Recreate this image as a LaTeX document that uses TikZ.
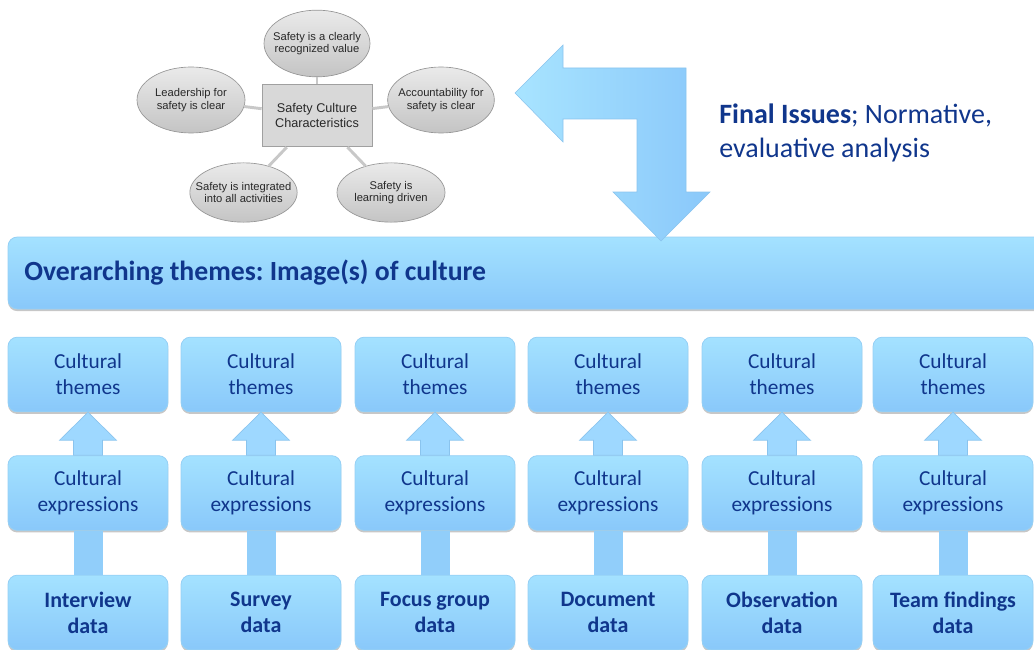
\documentclass[tikz,border=0pt]{standalone}
\usepackage{fontspec}
\setmainfont{Carlito}
\newfontfamily\mapfont{Liberation Sans}
\usetikzlibrary{shapes.geometric,shadows,calc}
\frenchspacing
\definecolor{boxtop}{RGB}{164,226,255}
\definecolor{boxbot}{RGB}{137,200,250}
\definecolor{boxline}{RGB}{150,208,245}
\definecolor{txtblue}{RGB}{16,54,140}
\definecolor{arrfill}{RGB}{158,216,255}
\definecolor{arrline}{RGB}{138,196,238}
\definecolor{shaftfill}{RGB}{145,206,250}
\definecolor{bentleft}{RGB}{168,228,255}
\definecolor{bentright}{RGB}{138,200,250}
\definecolor{elltop}{RGB}{234,234,234}
\definecolor{ellbot}{RGB}{196,196,196}
\definecolor{ellline}{RGB}{150,150,150}
\definecolor{mapline}{RGB}{200,200,200}
\definecolor{maptxt}{RGB}{40,40,40}
\definecolor{mapboxfill}{RGB}{216,216,216}
\definecolor{mapboxline}{RGB}{160,160,160}
\begin{document}
\begin{tikzpicture}[x=0.75pt,y=-0.75pt,
  bluebox/.style={rectangle, rounded corners=7pt, top color=boxtop, bottom color=boxbot,
    draw=boxline, line width=0.6pt, minimum width=120pt, minimum height=56pt,
    inner sep=0pt, align=center, text=txtblue, font=\fontsize{16}{19.5}\selectfont,
    drop shadow={shadow xshift=0pt, shadow yshift=-1.6pt, opacity=0.22, fill=black}},
  databox/.style={bluebox, font=\fontsize{16.5}{19.5}\selectfont\bfseries},
  uparrow/.style={fill=arrfill, draw=arrline, line width=0.5pt},
  shaft/.style={fill=shaftfill},
  bentarrow/.style={left color=bentleft, right color=bentright, draw=arrline, line width=0.4pt},
  mapell/.style={ellipse, top color=elltop, bottom color=ellbot, draw=ellline, line width=0.5pt,
    inner sep=0pt},
  maptext/.style={align=center, text=maptxt, inner sep=0pt, font=\mapfont\fontsize{8.4}{9.2}\selectfont},
  mapbox/.style={rectangle, fill=mapboxfill, draw=mapboxline, line width=0.6pt,
    minimum width=82.5pt, minimum height=47pt, inner sep=0pt, align=center, text=maptxt,
    font=\mapfont\fontsize{9.5}{11}\selectfont},
  mapconn/.style={draw=mapline, line width=2.2pt}
]
\clip (0,0) rectangle (1034,649);

% ---- Safety culture mind map ----
\node[mapbox] (scc) at (317,115.5) {Safety Culture\\Characteristics};
\node[mapell, minimum width=79.5pt, minimum height=50pt,
  label={[maptext]center:Safety is a clearly\\recognized value}] (v1) at (317,43.5) {};
\node[mapell, minimum width=81pt, minimum height=49.5pt,
  label={[maptext]center:Leadership for\\safety is clear}] (v2) at (191,100) {};
\node[mapell, minimum width=80pt, minimum height=49.5pt,
  label={[maptext]center:Accountability for\\safety is clear}] (v3) at (441,100) {};
\node[mapell, minimum width=80.5pt, minimum height=44.5pt,
  label={[maptext]center:Safety is integrated\\into all activities}] (v4) at (243.5,192.5) {};
\node[mapell, minimum width=81pt, minimum height=44.5pt,
  label={[maptext]center:Safety is\\learning driven}] (v5) at (391,192.5) {};
\foreach \v in {v1,v2,v3,v4,v5} \draw[mapconn] (scc) -- (\v);

% ---- overarching bar ----
\node[bluebox, minimum width=777.75pt, minimum height=54pt] (over) at (526.5,273) {};
\node[anchor=west, inner sep=0pt, text=txtblue, font=\fontsize{20.8}{24}\selectfont\bfseries] (overtxt) at (24,273) {Overarching themes: Image(s) of culture};

% ---- bent arrow ----
\draw[bentarrow] (515,93) -- (563,45) -- (563,68) -- (686,68) -- (686,192) -- (710,192)
  -- (661,241) -- (613,192) -- (637,192) -- (637,119) -- (563,119) -- (563,142) -- cycle;

\node[anchor=west, inner sep=0pt, align=left, text=txtblue, font=\fontsize{21}{25}\selectfont] (final) at (719,133)
  {\textbf{Final Issues}; Normative,\\evaluative analysis};

% ---- columns ----
\foreach \cx/\i/\lbl in {88/1/{Interview\\data}, 261/2/{Survey\\data}, 435/3/{Focus group\\data},
    608/4/{Document\\data}, 782/5/{Observation\\data}, 953/6/{Team findings\\data}} {
  \node[bluebox] (t\i) at (\cx,374.5) {Cultural\\themes};
  \node[bluebox] (e\i) at (\cx,493) {Cultural\\expressions};
  \node[databox] (d\i) at (\cx,612.5) {\lbl};
  \fill[shaft] ($(d\i.north)+(-14.5,0)$) rectangle ($(e\i.south)+(14.5,0)$);
  \draw[uparrow] (t\i.south) -- ($(t\i.south)+(28.5,28)$) -- ($(t\i.south)+(14.5,28)$)
    -- ($(e\i.north)+(14.5,0)$) -- ($(e\i.north)+(-14.5,0)$) -- ($(t\i.south)+(-14.5,28)$)
    -- ($(t\i.south)+(-28.5,28)$) -- cycle;
}
\end{tikzpicture}
\end{document}
